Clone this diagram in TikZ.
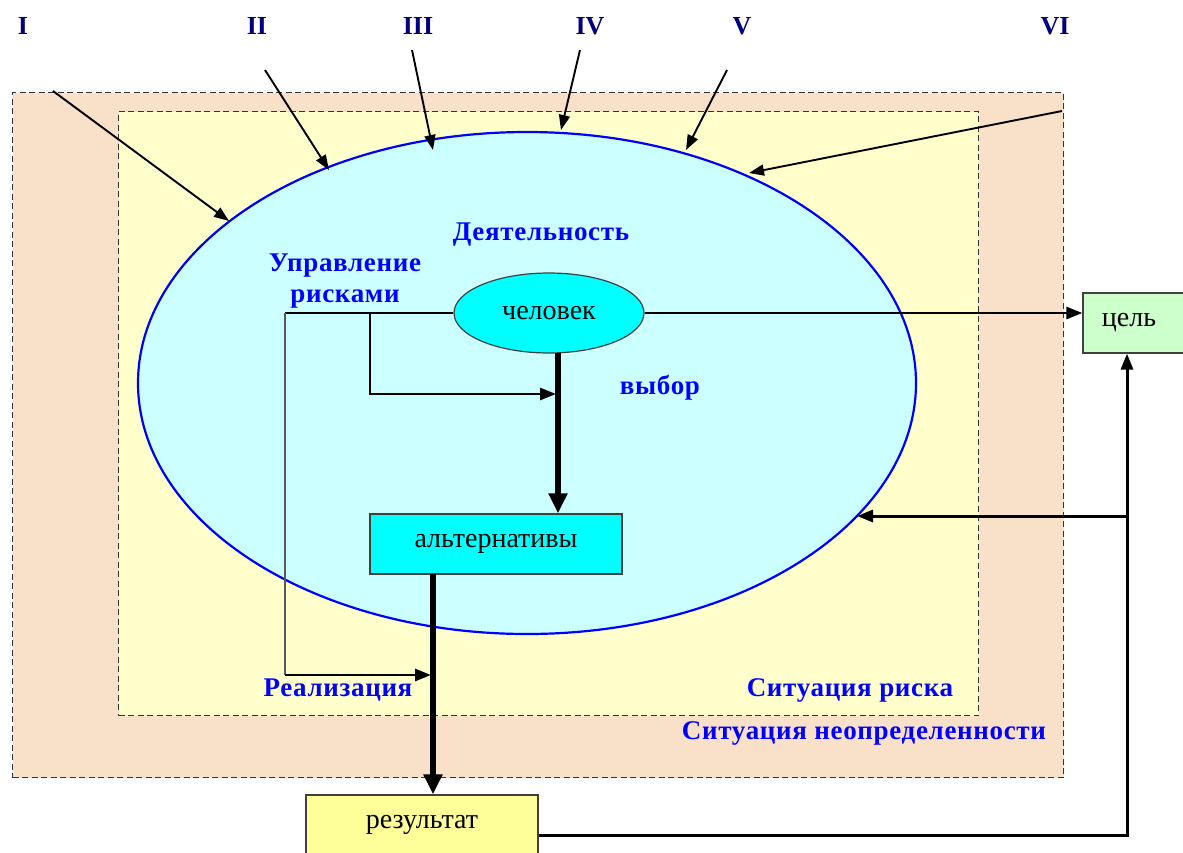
\documentclass[tikz,border=0pt]{standalone}
\usepackage{fontspec}
\setmainfont{Liberation Serif}
\newfontfamily\lblfont[LetterSpace=2.5]{Liberation Serif}
\usetikzlibrary{arrows.meta,shapes.geometric}

\definecolor{peach}{HTML}{F9E0C8}
\definecolor{paleyellow}{HTML}{FFFFCC}
\definecolor{paleaqua}{HTML}{CCFFFF}
\definecolor{aqua}{HTML}{00FFFF}
\definecolor{palegreen}{HTML}{CCFFCC}
\definecolor{lemon}{HTML}{FFFF99}
\definecolor{navyblue}{HTML}{000080}
\definecolor{labelblue}{HTML}{0000FF}

\tikzset{
  zone/.style={draw=black!80, line width=1.4pt, dash pattern=on 6pt off 3.5pt,
    rectangle, inner sep=0pt, anchor=north west},
  block/.style={draw=black!75, line width=1.2pt, inner sep=0pt,
    font=\fontsize{28}{30}\selectfont},
  numeral/.style={text=navyblue, font=\fontsize{26}{28}\selectfont\bfseries},
  tag/.style={text=labelblue, align=center,
    font=\lblfont\fontsize{27}{31}\selectfont\bfseries},
  thinarrow/.style={line width=1.9pt, -{Triangle[length=15pt,width=11pt]}},
  flow/.style={line width=2.8pt, -{Triangle[length=16pt,width=12pt]}},
  plain/.style={line width=2.8pt},
  heavy/.style={line width=6pt, -{Triangle[length=20pt,width=18pt]}},
}

\begin{document}
\begin{tikzpicture}[x=1pt,y=-1pt]
\useasboundingbox (0,0) rectangle (1183,852);
\clip (0,0) rectangle (1183,852);
\fill[white] (0,0) rectangle (1183,852);

% nested situations
\node[zone, fill=peach, minimum width=1051pt, minimum height=685pt] (unc) at (12,92) {};
\node[zone, fill=paleyellow, minimum width=860pt, minimum height=604pt] (risk) at (118,111) {};

% activity
\node[ellipse, draw=labelblue, line width=2.2pt, fill=paleaqua,
      minimum width=778pt, minimum height=502pt, inner sep=0pt] (act) at (527,383) {};

% numerals and their arrows
\node[numeral] (n1) at (23,26) {I};
\node[numeral] (n2) at (257,26) {II};
\node[numeral] (n3) at (418,26) {III};
\node[numeral] (n4) at (590,26) {IV};
\node[numeral] (n5) at (742,26) {V};
\node[numeral] (n6) at (1055,26) {VI};

\coordinate (s1) at (53,91);   \coordinate (e1) at (229,221);
\coordinate (s2) at (265,70);  \coordinate (e2) at (329,170);
\coordinate (s3) at (412,50);  \coordinate (e3) at (433,150);
\coordinate (s4) at (580,50);  \coordinate (e4) at (561,130);
\coordinate (s5) at (727,70);  \coordinate (e5) at (686,150);
\coordinate (s6) at (1062,111);\coordinate (e6) at (749,173);
\foreach \i in {1,...,6} \draw[thinarrow] (s\i) -- (e\i);

% blocks
\node[block, ellipse, fill=aqua, minimum width=190pt, minimum height=80pt] (man) at (549,313) {человек};
\node[block, fill=aqua, minimum width=252pt, minimum height=60pt] (alt) at (496,544) {альтернативы};
\node[block, fill=lemon, minimum width=232pt, minimum height=60pt] (res) at (422,825) {результат};
\node[block, fill=palegreen, minimum width=102pt, minimum height=60pt] (goal) at (1134,323) {\hspace*{-10pt}цель};

% labels
\node[tag] (lact) at (541,235) {Деятельность};
\node[tag] (lrm) at (345,281) {Управление\\рисками};
\node[tag] (lch) at (660,388) {выбор};
\node[tag] (lreal) at (338,690) {Реализация};
\node[tag] (lrisk) at (850,690) {Ситуация риска};
\node[tag] (lunc) at (864,733) {Ситуация неопределенности};

% connectors
\draw[flow] (man.east) -- (man.east -| goal.west);

\coordinate (rmL) at (285,313);
\coordinate (rmB) at (370,313);
\coordinate (rmLow) at (285,675);
\coordinate (rmMid) at (370,394);
\draw[plain] (man.west) -- (rmL);
\draw[line width=1.6pt, black!65] (rmL) -- (rmLow);
\draw[flow] (rmLow) -- (431,675);
\draw[flow] (rmB) -- (rmMid) -- (556,394);

\coordinate (choice) at (558,353);
\draw[heavy] (choice) -- (choice |- alt.north);
\coordinate (impl) at (433,574);
\draw[heavy] (impl) -- (impl |- res.north);

\coordinate (loop) at (1127,835);
\coordinate (back) at (1127,516);
\coordinate (backend) at (857,516);
\draw[flow, line width=3pt] (loop -| res.east) -- (loop) -- (loop |- goal.south);
\draw[flow, line width=3pt] (back) -- (backend);
\end{tikzpicture}
\end{document}
